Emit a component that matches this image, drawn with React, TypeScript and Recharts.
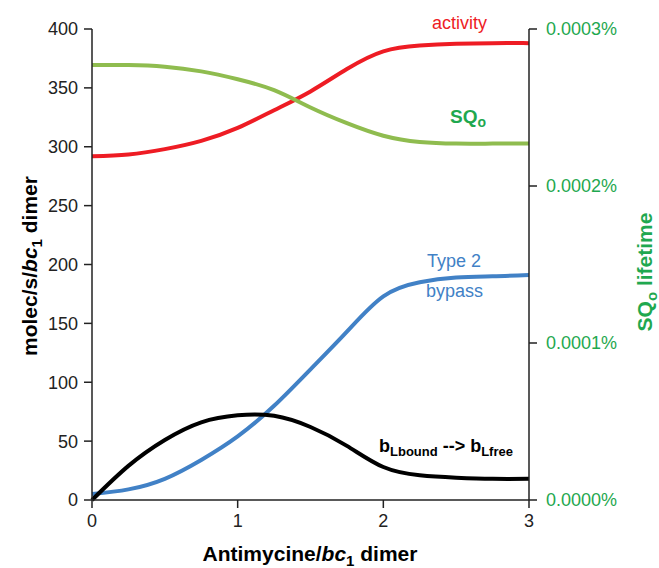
import React from "react"
import { LineChart, Line, XAxis, YAxis } from "recharts"

const X_VALUES = [0, 0.25, 0.5, 0.75, 1, 1.25, 1.5, 1.75, 2, 2.25, 2.5, 2.75, 3]
const ACTIVITY = [292, 293.5, 298, 305, 316, 331, 347, 366, 381, 386, 387.5, 388, 388]
const SQO_LIFETIME = [
  0.000277, 0.000277, 0.000276, 0.000273, 0.000268, 0.000261, 0.00025, 0.00024, 0.000232,
  0.000228, 0.000227, 0.000227, 0.000227,
]
const BYPASS = [5, 9, 18, 34, 54, 80, 111, 143, 173, 185, 189, 190, 191]
const BL_FREE = [0, 29, 51, 66, 72, 71.5, 62, 46, 28, 21, 19, 18, 18]

const X_TICKS = [0, 1, 2, 3]
const LEFT_TICKS = [0, 50, 100, 150, 200, 250, 300, 350, 400]
const RIGHT_TICKS = [0, 0.0001, 0.0002, 0.0003]

const RED = "#ee1c24"
const OLIVE = "#8fbc4f"
const GREEN_TEXT = "#1fa84f"
const BLUE = "#4181c6"
const AXIS = "#222"
const FONT = '"Liberation Sans", Arial, Helvetica, sans-serif'

const data = X_VALUES.map((x, i) => ({
  x,
  activity: ACTIVITY[i],
  sqo: SQO_LIFETIME[i],
  bypass: BYPASS[i],
  blfree: BL_FREE[i],
}))

export default function App() {
  return (
    <div
      style={{
        position: "absolute",
        left: 0,
        top: 0,
        width: 659,
        height: 568,
        background: "#fff",
        fontFamily: FONT,
      }}
    >
      <LineChart width={659} height={568} data={data} margin={{ top: 29, right: 30, bottom: 28, left: 30 }}>
        <XAxis
          type="number"
          dataKey="x"
          domain={[0, 3]}
          ticks={X_TICKS}
          height={40}
          stroke={AXIS}
          strokeWidth={1.5}
          tickSize={8}
          tickMargin={6}
          tick={{ fontSize: 18, fill: AXIS }}
        />
        <YAxis
          yAxisId="left"
          domain={[0, 400]}
          ticks={LEFT_TICKS}
          width={62}
          stroke={AXIS}
          strokeWidth={1.5}
          tickSize={8}
          tickMargin={6}
          tick={{ fontSize: 18, fill: AXIS }}
        />
        <YAxis
          yAxisId="right"
          orientation="right"
          domain={[0, 0.0003]}
          ticks={RIGHT_TICKS}
          tickFormatter={(v: number) => v.toFixed(4) + "%"}
          width={100}
          stroke={AXIS}
          strokeWidth={1.5}
          tickSize={8}
          tickMargin={9}
          tick={{ fontSize: 18, fill: GREEN_TEXT }}
        />
        <Line yAxisId="left" type="natural" dataKey="activity" stroke={RED} strokeWidth={4} dot={false} isAnimationActive={false} />
        <Line yAxisId="right" type="natural" dataKey="sqo" stroke={OLIVE} strokeWidth={4} dot={false} isAnimationActive={false} />
        <Line yAxisId="left" type="natural" dataKey="bypass" stroke={BLUE} strokeWidth={4} dot={false} isAnimationActive={false} />
        <Line yAxisId="left" type="natural" dataKey="blfree" stroke="#000" strokeWidth={4} dot={false} isAnimationActive={false} />
      </LineChart>

      {/* labels drawn over the chart */}
      <svg
        width={659}
        height={568}
        style={{ position: "absolute", left: 0, top: 0, pointerEvents: "none", fontFamily: FONT }}
      >
        <text x={432} y={29} fontSize={18} fill={RED}>activity</text>
        <text x={450} y={123} fontSize={19} fontWeight="bold" fill={GREEN_TEXT}>
          SQ<tspan fontSize={14} dy={4}>o</tspan>
        </text>
        <text x={427} y={267} fontSize={18} fill={BLUE}>Type 2</text>
        <text x={426} y={297} fontSize={18} fill={BLUE}>bypass</text>
        <text x={379} y={452} fontSize={18} fontWeight="bold" fill="#000">
          b<tspan fontSize={13} dy={4}>Lbound</tspan>
          <tspan dy={-4}> --&gt; b</tspan>
          <tspan fontSize={13} dy={4}>Lfree</tspan>
        </text>

        <text x={310} y={561} fontSize={21} fontWeight="bold" fill="#000" textAnchor="middle">
          Antimycine/<tspan fontStyle="italic">bc</tspan>
          <tspan fontSize={15} dy={5}>1</tspan>
          <tspan dy={-5}> dimer</tspan>
        </text>

        <text transform="translate(37,266) rotate(-90)" fontSize={21} fontWeight="bold" fill="#000" textAnchor="middle">
          molec/s/<tspan fontStyle="italic">bc</tspan>
          <tspan fontSize={15} dy={5}>1</tspan>
          <tspan dy={-5}> dimer</tspan>
        </text>

        <text transform="translate(652,272) rotate(-90)" fontSize={21} fontWeight="bold" fill={GREEN_TEXT} textAnchor="middle">
          SQ<tspan fontSize={15} dy={5}>o</tspan>
          <tspan dy={-5}> lifetime</tspan>
        </text>
      </svg>
    </div>
  )
}
